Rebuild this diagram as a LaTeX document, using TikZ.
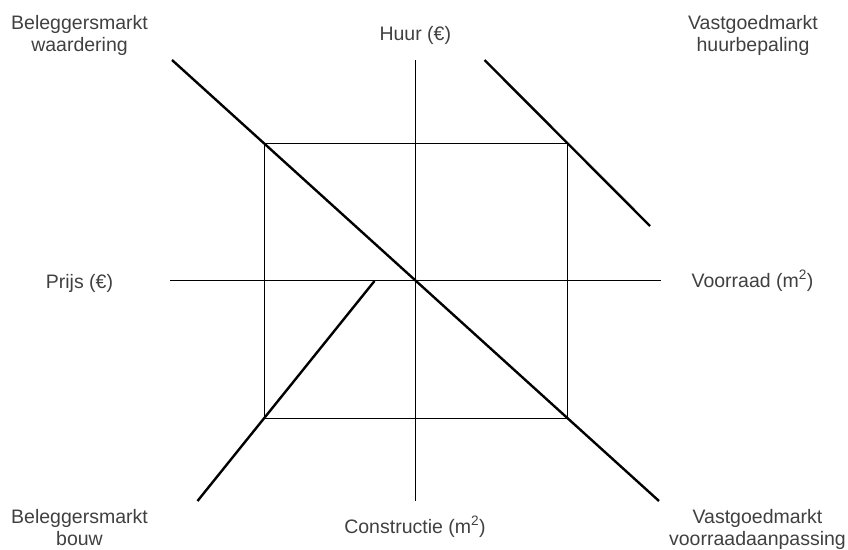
\documentclass[tikz,border=0pt]{standalone}
\usepackage{fontspec}
\setmainfont{Liberation Sans}
\definecolor{txtgray}{HTML}{404040}
\begin{document}
\begin{tikzpicture}[x=1pt,y=-1pt,
  thinline/.style={draw=black,line width=1pt},
  thickline/.style={draw=black,line width=2.4pt},
  lbl/.style={text=txtgray,font=\fontsize{19.5}{22.5}\selectfont,align=center,anchor=base,inner sep=0pt}]
\useasboundingbox (0,0) rectangle (848,549);
% axes
\coordinate (vt) at (415,60);
\coordinate (vb) at (415,500.5);
\coordinate (hl) at (170,280.5);
\coordinate (hr) at (661,280.5);
\draw[thinline] (vt) -- (vb);
\draw[thinline] (hl) -- (hr);
% rectangle
\coordinate (r1) at (264,143.5);
\coordinate (r2) at (567.5,418.5);
\draw[thinline] (r1) rectangle (r2);
% curves
\coordinate (d1) at (172,60);
\coordinate (d2) at (659,501);
\draw[thickline] (d1) -- (d2);
\coordinate (u1) at (484.5,60);
\coordinate (u2) at (650,226);
\draw[thickline] (u1) -- (u2);
\coordinate (l1) at (374.5,281);
\coordinate (l2) at (197.5,501);
\draw[thickline] (l1) -- (l2);
% labels (base anchor = baseline of last line)
\node[lbl] (bw) at (79.5,51.5) {Beleggersmarkt\\waardering};
\node[lbl] (huur) at (415.3,40) {Huur (€)};
\node[lbl] (vh) at (753,51.5) {Vastgoedmarkt\\huurbepaling};
\node[lbl] (prijs) at (79.5,288) {Prijs (€)};
\node[lbl] (voor) at (752.5,287.5) {Voorraad (m\textsuperscript{2})};
\node[lbl] (bb) at (79.5,545.5) {Beleggersmarkt\\bouw};
\node[lbl] (con) at (415,533.3) {Constructie (m\textsuperscript{2})};
\node[lbl] (vv) at (757.5,545.5) {Vastgoedmarkt\\voorraadaanpassing};
\end{tikzpicture}
\end{document}
